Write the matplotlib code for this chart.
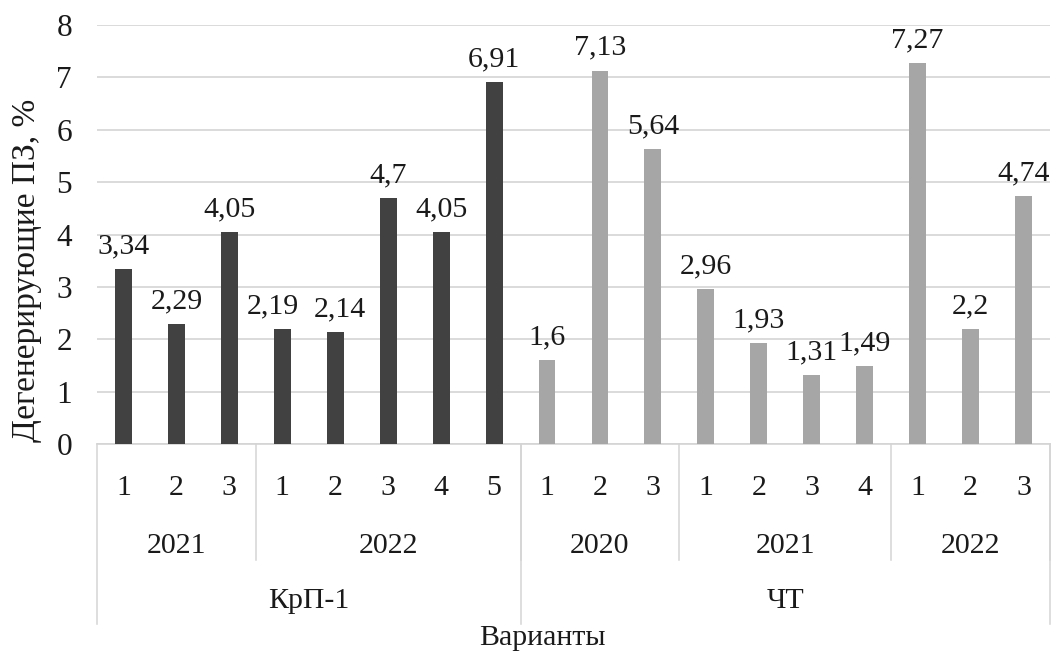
import matplotlib
matplotlib.use("Agg")
import matplotlib.pyplot as plt

variants = ['1', '2', '3', '1', '2', '3', '4', '5', '1', '2', '3', '1', '2', '3', '4', '1', '2', '3']
values = [3.34, 2.29, 4.05, 2.19, 2.14, 4.7, 4.05, 6.91, 1.6, 7.13, 5.64,
          2.96, 1.93, 1.31, 1.49, 7.27, 2.2, 4.74]
year_labels = ['2021', '2022', '2020', '2021', '2022']
year_sizes = [3, 5, 3, 4, 3]
group_labels = ['КрП-1', 'ЧТ']
group_sizes = [8, 10]
group_colors = ['#414141', '#a6a6a6']
y_ticks = [0, 1, 2, 3, 4, 5, 6, 7, 8]

plt.rcParams['font.family'] = ['Liberation Serif', 'DejaVu Serif']
FS = 21.5
TXT = '#1a1a1a'

W, H = 1060, 651
fig = plt.figure(figsize=(W / 100, H / 100), dpi=100)
ax_left, ax_right, ax_bot, ax_top = 97, 1050, 444, 25
ax = fig.add_axes([ax_left / W, (H - ax_bot) / H, (ax_right - ax_left) / W, (ax_bot - ax_top) / H])
ax_h = ax_bot - ax_top

def yfrac(py):
    return (ax_bot - py) / ax_h

colors = []
for c, n in zip(group_colors, group_sizes):
    colors += [c] * n

x = list(range(len(values)))
ax.bar(x, values, width=0.32, color=colors, zorder=3)

label_dx = {3: -7, 4: 3}
for xi, v in zip(x, values):
    ax.annotate(f"{v:g}".replace('.', ','), (xi, v), xytext=(label_dx.get(xi, 0), 7),
                textcoords='offset points', ha='center', va='bottom', fontsize=FS, color=TXT)

ax.set_xlim(-0.5, len(values) - 0.5)
ax.set_ylim(0, 8)
ax.set_yticks(y_ticks)
ax.set_yticklabels([str(t) for t in y_ticks], fontsize=FS + 1, color=TXT)
ax.tick_params(axis='y', length=0, pad=18)
ax.set_xticks([])
ax.grid(axis='y', color='#d4d4d4', linewidth=1.2, zorder=0)
for s in ['top', 'right', 'left']:
    ax.spines[s].set_visible(False)
ax.spines['bottom'].set_color('#d4d4d4')
ax.spines['bottom'].set_linewidth(1.2)

tr = ax.get_xaxis_transform()
line_kw = dict(color='#d4d4d4', linewidth=1.1, transform=tr, clip_on=False)

# variant labels
for xi, lab in zip(x, variants):
    ax.text(xi, yfrac(488), lab, ha='center', va='center', fontsize=FS, transform=tr, color=TXT)

# year labels and separators
start = 0
for lab, n in zip(year_labels, year_sizes):
    ax.text(start + (n - 1) / 2, yfrac(546), lab, ha='center', va='center', fontsize=FS,
            transform=tr, color=TXT)
    start += n
    ax.plot([start - 0.5, start - 0.5], [0, yfrac(560)], **line_kw)

# group labels and separators
start = 0
ax.plot([-0.5, -0.5], [0, yfrac(624)], **line_kw)
for lab, n in zip(group_labels, group_sizes):
    ax.text(start + (n - 1) / 2, yfrac(601), lab, ha='center', va='center', fontsize=FS,
            transform=tr, color=TXT)
    start += n
    ax.plot([start - 0.5, start - 0.5], [0, yfrac(624)], **line_kw)

fig.text(542 / W, (H - 638) / H, 'Варианты', ha='center', va='center', fontsize=FS, color=TXT)
fig.text(27 / W, (H - 270) / H, 'Дегенерирующие ПЗ, %', ha='center', va='center',
         rotation=90, fontsize=24, color=TXT)

fig.savefig('out.png', dpi=100, facecolor='white')
